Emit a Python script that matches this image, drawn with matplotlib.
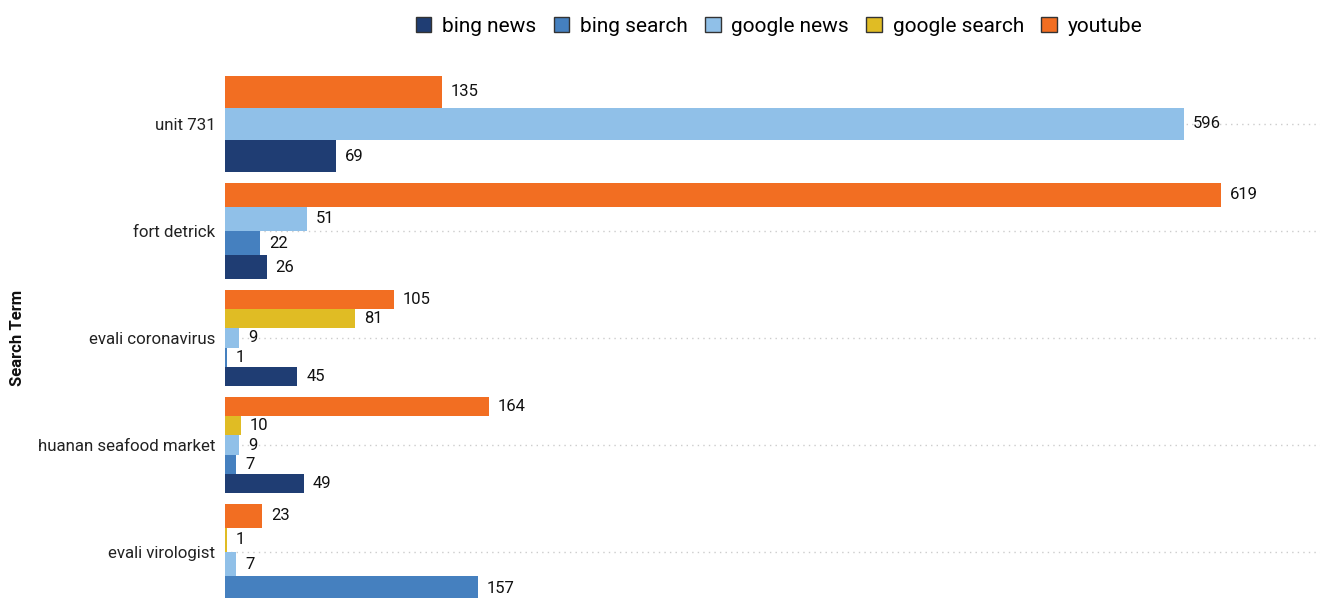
import matplotlib
matplotlib.use("Agg")
import matplotlib.pyplot as plt
from matplotlib.patches import Patch

plt.rcParams['font.family'] = ['Roboto', 'DejaVu Sans']

terms = ["unit 731", "fort detrick", "evali coronavirus", "huanan seafood market", "evali virologist"]
series = ["bing news", "bing search", "google news", "google search", "youtube"]
bing_news = [69, 26, 45, 49, 0]
bing_search = [0, 22, 1, 7, 157]
google_news = [596, 51, 9, 9, 7]
google_search = [0, 0, 81, 10, 1]
youtube = [135, 619, 105, 164, 23]
colors = ["#1f3d73", "#4580bf", "#90c0e8", "#e0bc24", "#f26e22"]

values = [bing_news, bing_search, google_news, google_search, youtube]

fig = plt.figure(figsize=(13.33, 5.98), dpi=100)
ax = fig.add_axes([225/1333, -7.5/598, 1095/1333, (605.5-70.5)/598])

band = 0.905
for g, term in enumerate(terms):
    # order top to bottom: youtube, google search, google news, bing search, bing news
    present = [s for s in range(len(series) - 1, -1, -1) if values[s][g] > 0]
    n = len(present)
    h = band / n
    for i, s in enumerate(present):
        y = g - band / 2 + h * (i + 0.5)
        v = values[s][g]
        ax.barh(y, v, height=h, color=colors[s], zorder=3, linewidth=0)
        ax.text(v + 5.5, y, str(v), va='center', ha='left', fontsize=12, color='#111111', zorder=4)

ax.set_ylim(len(terms) - 0.5, -0.5)
ax.set_xlim(0, 680.7)
ax.set_yticks(range(len(terms)))
ax.set_yticklabels(terms, fontsize=12.2, color='#222222')
ax.tick_params(axis='y', length=0, pad=7)
ax.set_xticks([])
ax.set_axisbelow(True)
ax.yaxis.grid(True, linestyle=(0, (1, 3)), color='#cccccc', linewidth=1)
for sp in ax.spines.values():
    sp.set_visible(False)

fig.text(18/1333, 1 - 338/598, "Search Term", rotation=90, ha='center', va='center',
         fontsize=12, fontweight='bold', color='#111111')

handles = [Patch(facecolor=c, edgecolor='#333333', linewidth=1) for c in colors]
fig.legend(handles, series, loc='center', bbox_to_anchor=(779/1333, 1 - 26/598), ncol=5,
           frameon=False, fontsize=15, handlelength=0.75, handleheight=0.75,
           handletextpad=0.5, columnspacing=0.85)

fig.savefig("out.png", dpi=100)
